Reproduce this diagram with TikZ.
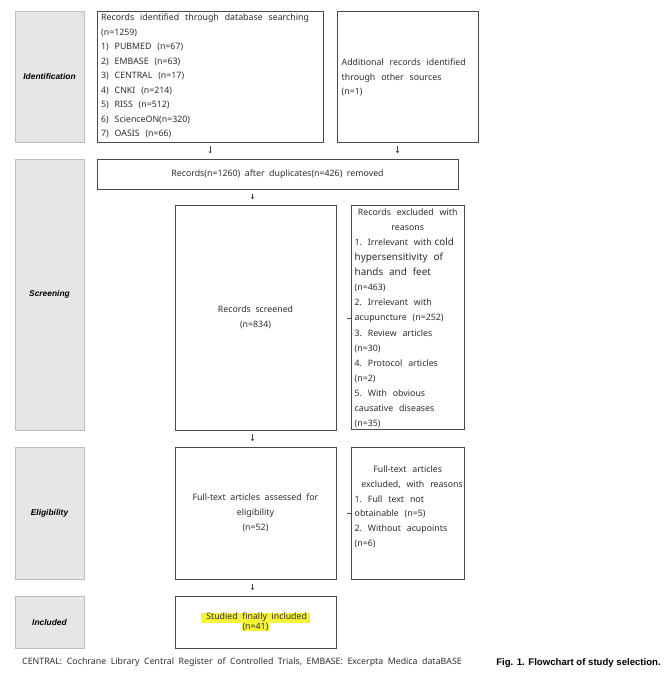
\documentclass[tikz,border=0pt]{standalone}
\usepackage{fontspec}
\setmainfont{Noto Sans}
\newfontfamily\capfont{Liberation Sans}
\usetikzlibrary{arrows.meta}
\definecolor{hlyellow}{HTML}{F6F33A}
\definecolor{sidefill}{HTML}{E6E6E6}
\definecolor{sideline}{HTML}{BDBDBD}
\definecolor{boxline}{HTML}{4A4A4A}
\definecolor{txtcol}{HTML}{2E2E2E}
\begin{document}
\begin{tikzpicture}[x=1pt,y=-1pt,
  box/.style={draw=boxline, line width=0.7pt, fill=white, inner sep=0pt, text=txtcol,
    font=\fontsize{8.8}{15}\selectfont, align=center},
  side/.style={draw=sideline, fill=sidefill, line width=0.7pt, inner sep=0pt,
    font=\capfont\fontsize{8.4}{10}\selectfont\bfseries\itshape},
  txt/.style={inner sep=0pt, text=txtcol, align=left, anchor=base west},
  arr/.style={-{Straight Barb[length=1.6pt,width=2.6pt]}, line width=0.45pt, draw=black!75},
  tick/.style={line width=0.6pt, draw=boxline}
]
\useasboundingbox (0,0) rectangle (670,675);

% side labels
\node[side, minimum width=69pt, minimum height=131pt] (idL) at (49.5,76.5) {Identification};
\node[side, minimum width=69pt, minimum height=271pt] (scrL) at (49.5,294.5) {Screening};
\node[side, minimum width=69pt, minimum height=132pt] (eliL) at (49.5,513) {Eligibility};
\node[side, minimum width=69pt, minimum height=52pt] (incL) at (49.5,622) {Included};

% boxes
\node[box, minimum width=226pt, minimum height=131pt] (db) at (210,76.5) {};
\node[box, minimum width=141pt, minimum height=131pt] (add) at (407.5,76.5) {};
\node[box, minimum width=361pt, minimum height=30pt] (dup) at (277.5,174)
  {Records(n=1260)\ \ after\ \ duplicates(n=426)\ \ removed};
\node[box, minimum width=161pt, minimum height=225pt] (scr) at (255.5,317.5)
  {Records\ \ screened\\(n=834)};
\node[box, minimum width=113pt, minimum height=224pt] (exc) at (407.5,317) {};
\node[box, minimum width=161pt, minimum height=132pt] (eli) at (255.5,513)
  {Full-text\ \ articles\ \ assessed\ \ for\\eligibility\\(n=52)};
\node[box, minimum width=113pt, minimum height=132pt] (fexc) at (407.5,513) {};
\node[box, minimum width=161pt, minimum height=52pt, font=\fontsize{8.8}{11}\selectfont] (inc) at (255.5,622)
  {\setlength{\fboxsep}{0.6pt}\colorbox{hlyellow}{\ \ Studied\ \ finally\ \ included\ }\\[-1.6pt]\setlength{\fboxsep}{0.6pt}\colorbox{hlyellow}{(n=41)}};

% texts inside boxes
\node[txt, font=\fontsize{8.8}{14.5}\selectfont, text width=220pt] (dbt) at (101,20.5)
  {Records\ \ identified\ \ through\ \ database\ \ searching\\
   (n=1259)\\
   1)\ \ PUBMED\ \ (n=67)\\
   2)\ \ EMBASE\ \ (n=63)\\
   3)\ \ CENTRAL\ \ (n=17)\\
   4)\ \ CNKI\ \ (n=214)\\
   5)\ \ RISS\ \ (n=512)\\
   6)\ \ ScienceON(n=320)\\
   7)\ \ OASIS\ \ (n=66)};
\node[txt, font=\fontsize{8.8}{14.7}\selectfont, text width=134pt] (addt) at (341.5,65.5)
  {Additional\ \ records\ \ identified\\
   through\ \ other\ \ sources\\
   (n=1)};
\node[txt, font=\fontsize{8.8}{15.07}\selectfont, text width=106pt] (exct) at (354.5,215.5)
  {\makebox[106pt][c]{Records\ \ excluded\ \ with}\\
   \makebox[106pt][c]{reasons}\\
   1.\ \ Irrelevant\ \ with\ {\fontsize{9.9}{15.07}\selectfont cold}\\
   {\fontsize{9.9}{15.07}\selectfont hypersensitivity\ \ of}\\
   {\fontsize{9.9}{15.07}\selectfont hands\ \ and\ \ feet}\\
   (n=463)\\
   2.\ \ Irrelevant\ \ with\\
   acupuncture\ \ (n=252)\\
   3.\ \ Review\ \ articles\\
   (n=30)\\
   4.\ \ Protocol\ \ articles\\
   (n=2)\\
   5.\ \ With\ \ obvious\\
   causative\ \ diseases\\
   (n=35)};
\node[txt, font=\fontsize{8.8}{14.8}\selectfont, text width=106pt] (fexct) at (354.5,472.5)
  {\makebox[106pt][c]{Full-text\ \ articles}\\
   \makebox[106pt][c]{\ \ \ excluded,\ \ with\ \ reasons}\\
   1.\ \ Full\ \ text\ \ not\\
   obtainable\ \ (n=5)\\
   2.\ \ Without\ \ acupoints\\
   (n=6)};

% connectors (short arrow glyphs)
\draw[arr, shorten <=4pt, shorten >=5.5pt] (db.south) -- (db.south |- dup.north);
\draw[arr, shorten <=4pt, shorten >=5.5pt] ([xshift=-10pt]add.south) -- ([xshift=-10pt]add.south |- dup.north);
\draw[arr, shorten <=4.5pt, shorten >=5.5pt] ([xshift=-3pt]scr.north |- dup.south) -- ([xshift=-3pt]scr.north);
\draw[arr, shorten <=4pt, shorten >=5.5pt] ([xshift=-3pt]scr.south) -- ([xshift=-3pt]eli.north);
\draw[arr, shorten <=5pt, shorten >=5.5pt] ([xshift=-3pt]eli.south) -- ([xshift=-3pt]inc.north);

% side ticks
\coordinate (t1) at (347,318);
\draw[tick] (t1) -- (t1 -| exc.west);
\coordinate (t2) at (347,513);
\draw[tick] (t2) -- (t2 -| fexc.west);

% footnote and caption
\node[inner sep=0pt, text=txtcol, font=\fontsize{8.8}{10}\selectfont, anchor=base] (foot) at (242,664.5)
  {CENTRAL:\ \ Cochrane\ \ Library\ \ Central\ \ Register\ \ of\ \ Controlled\ \ Trials,\ \ EMBASE:\ \ Excerpta\ \ Medica\ \ dataBASE};
\node[inner sep=0pt, font=\capfont\bfseries\fontsize{9.6}{11}\selectfont, anchor=base] (cap) at (578.5,665)
  {Fig. 1. Flowchart of study selection.};
\end{tikzpicture}
\end{document}
